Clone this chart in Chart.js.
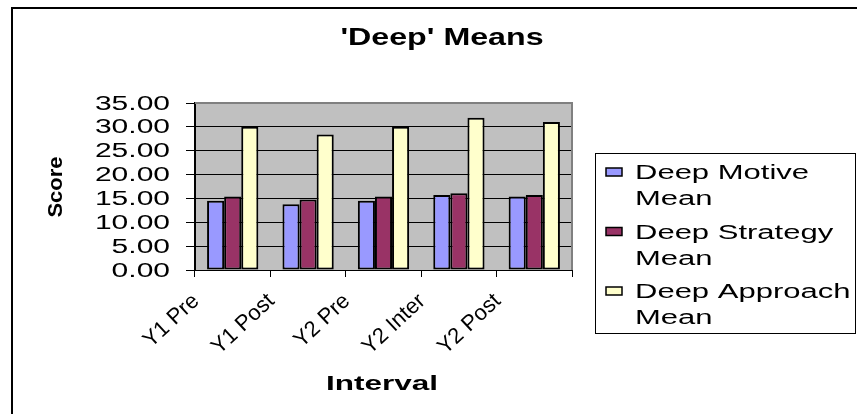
<!DOCTYPE html>
<html>
<head>
<meta charset="utf-8">
<script src="https://cdn.jsdelivr.net/npm/chart.js@4/dist/chart.umd.min.js"></script>
<style>
  html, body { margin: 0; padding: 0; background: #ffffff; }
  #c { display: block; }
</style>
</head>
<body>
<canvas id="c" width="857" height="414"></canvas>
<script>
// Interval categories and series means
const categories = ['Y1 Pre', 'Y1 Post', 'Y2 Pre', 'Y2 Inter', 'Y2 Post'];
const deepMotiveMean = [14.5, 13.8, 14.5, 15.7, 15.4];
const deepStrategyMean = [15.4, 14.8, 15.4, 16.1, 15.7];
const deepApproachMean = [30.0, 28.4, 30.0, 31.9, 31.0];
const seriesNames = ['Deep Motive Mean', 'Deep Strategy Mean', 'Deep Approach Mean'];
const seriesColors = ['#9999FF', '#993366', '#FFFFCC'];
const chartTitle = "'Deep' Means";
const yAxisTitle = 'Score';
const xAxisTitle = 'Interval';
const yMin = 0, yMax = 35, yStep = 5;

const FONT = '"Liberation Sans", Arial, sans-serif';

// draw text widened along its baseline (sx) around its anchor
function wideText(ctx, text, x, y, sx, align, baseline, rot) {
  ctx.save();
  ctx.translate(x, y);
  if (rot) ctx.rotate(rot);
  ctx.scale(sx, 1);
  ctx.textAlign = align;
  ctx.textBaseline = baseline;
  ctx.fillText(text, 0, 0);
  ctx.restore();
}

const framePlugin = {
  id: 'frame',
  beforeDraw(chart) {
    const ctx = chart.ctx;
    const a = chart.chartArea;
    ctx.save();
    // outer frame (left and top edges)
    ctx.fillStyle = '#000';
    ctx.fillRect(11, 7, 846, 2);
    ctx.fillRect(11, 7, 2, 407);
    // plot area fill
    ctx.fillStyle = '#C0C0C0';
    ctx.fillRect(a.left, a.top, a.right - a.left, a.bottom - a.top);
    ctx.restore();
  },
  beforeDatasetsDraw(chart) {
    const ctx = chart.ctx;
    const a = chart.chartArea;
    ctx.save();
    ctx.strokeStyle = '#808080';
    ctx.lineWidth = 2;
    ctx.beginPath();
    ctx.moveTo(a.left, a.top);
    ctx.lineTo(a.right, a.top);
    ctx.lineTo(a.right, a.bottom);
    ctx.stroke();
    ctx.restore();
  },
  afterDraw(chart) {
    const ctx = chart.ctx;
    const a = chart.chartArea;
    const xs = chart.scales.x;
    const ys = chart.scales.y;
    ctx.save();
    ctx.fillStyle = '#000';

    // title
    ctx.font = 'bold 23px ' + FONT;
    wideText(ctx, chartTitle, 442, 45, 1.4, 'center', 'alphabetic');

    // y tick labels
    ctx.font = '20px ' + FONT;
    ys.ticks.forEach(t => {
      wideText(ctx, t.value.toFixed(2), 170, ys.getPixelForValue(t.value) + 1, 1.5, 'right', 'middle');
    });

    // x category labels, slanted, ending at each category's left tick
    const catW = (a.right - a.left) / categories.length;
    ctx.font = '22px ' + FONT;
    categories.forEach((c, i) => {
      const px = xs.getPixelForValue(i) - catW / 2 + 1;
      wideText(ctx, c, px, a.bottom + 28, 1.0, 'right', 'middle', -43 * Math.PI / 180);
    });

    // axis titles
    ctx.font = 'bold 20px ' + FONT;
    ctx.save();
    ctx.translate(56, 187);
    ctx.rotate(-Math.PI / 2);
    ctx.scale(1.1, 1);
    ctx.textAlign = 'center';
    ctx.textBaseline = 'middle';
    ctx.fillText(yAxisTitle, 0, 0);
    ctx.restore();

    ctx.font = 'bold 21px ' + FONT;
    wideText(ctx, xAxisTitle, 382, 384, 1.5, 'center', 'middle');

    // legend
    const lx = 595, ly = 153, lw = 262, lh = 180;
    ctx.fillStyle = '#ffffff';
    ctx.fillRect(lx, ly, lw, lh);
    ctx.strokeStyle = '#000';
    ctx.lineWidth = 1;
    ctx.strokeRect(lx + 0.5, ly + 0.5, lw - 2, lh);
    chart.data.datasets.forEach((ds, i) => {
      const cy = 172 + i * 59.5;
      ctx.fillStyle = ds.backgroundColor;
      ctx.fillRect(606, cy - 4, 16, 8);
      ctx.strokeStyle = '#000';
      ctx.lineWidth = 1.5;
      ctx.strokeRect(606, cy - 4, 16, 8);
      const words = ds.label.split(' ');
      const first = words.slice(0, -1).join(' ');
      const last = words[words.length - 1];
      ctx.fillStyle = '#000';
      ctx.font = '20px ' + FONT;
      wideText(ctx, first, 635, cy + 7, 1.55, 'left', 'alphabetic');
      wideText(ctx, last, 635, cy + 33, 1.55, 'left', 'alphabetic');
    });
    ctx.restore();
  }
};

const datasets = [deepMotiveMean, deepStrategyMean, deepApproachMean].map((vals, i) => ({
  label: seriesNames[i],
  data: vals,
  backgroundColor: seriesColors[i],
  borderColor: '#000',
  borderWidth: 2,
  borderSkipped: false,
  categoryPercentage: 0.68,
  barPercentage: 1.0
}));

new Chart(document.getElementById('c'), {
  type: 'bar',
  data: { labels: categories, datasets },
  plugins: [framePlugin],
  options: {
    responsive: false,
    animation: false,
    devicePixelRatio: 1,
    layout: { padding: { left: 0, top: 103, right: 285, bottom: 0 } },
    plugins: {
      legend: { display: false },
      title: { display: false },
      tooltip: { enabled: false }
    },
    scales: {
      x: {
        afterFit: s => { s.height = 144; },
        grid: {
          offset: true,
          drawOnChartArea: false,
          drawTicks: true,
          tickLength: 7,
          color: '#000',
          tickColor: '#000'
        },
        border: { display: true, color: '#000', width: 1 },
        ticks: { display: false }
      },
      y: {
        min: yMin,
        max: yMax,
        afterFit: s => { s.width = 195; },
        grid: {
          color: ctx => (ctx.tick && ctx.tick.value === yMax) ? '#808080' : '#000',
          tickColor: '#000',
          lineWidth: 1,
          drawTicks: true,
          tickLength: 9
        },
        border: { display: true, color: '#000', width: 2 },
        ticks: { display: false, stepSize: yStep }
      }
    }
  }
});
</script>
</body>
</html>
